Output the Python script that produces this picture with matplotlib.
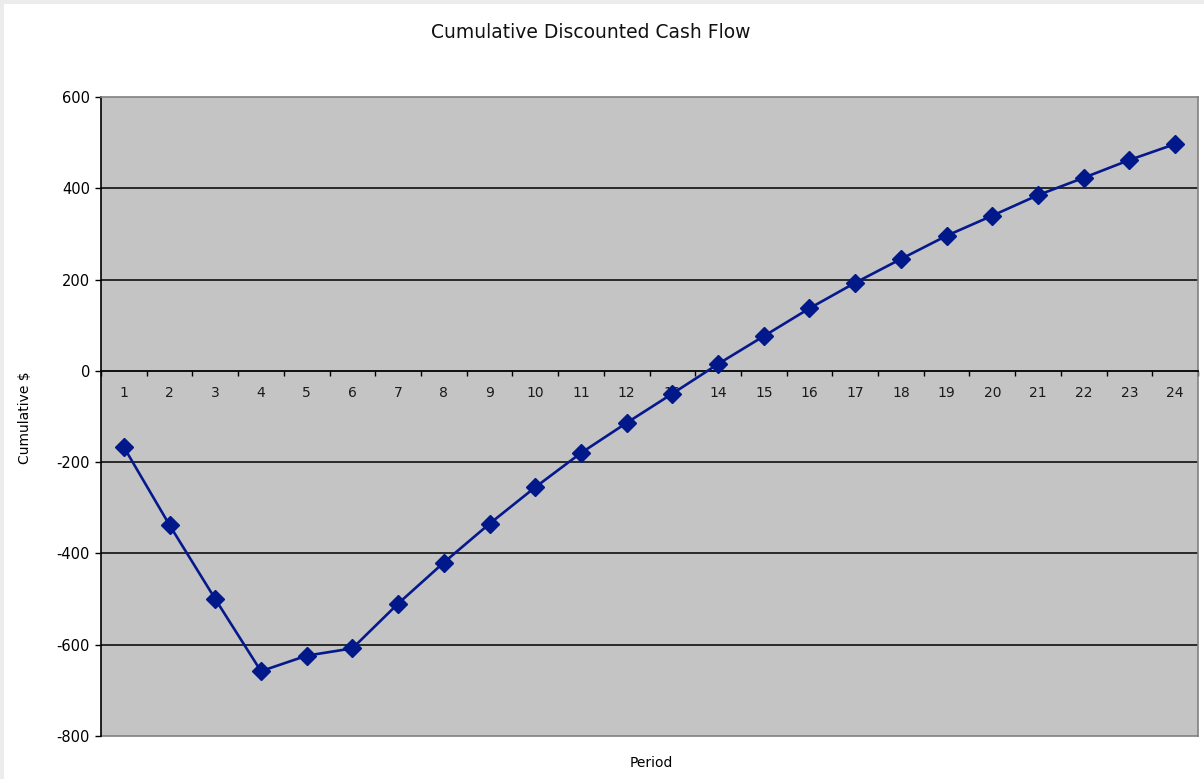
import matplotlib.pyplot as plt
from matplotlib.patches import Rectangle
from matplotlib.ticker import FixedLocator

plt.rcParams['axes.unicode_minus'] = False

# Cumulative discounted cash flow per period
periods = list(range(1, 25))
cumulative = [-167, -338, -500, -658, -624, -608, -510, -420, -335, -255,
              -180, -114, -50, 15, 76, 137, 193, 245, 296, 340,
              385, 423, 462, 497]
y_ticks = [-800, -600, -400, -200, 0, 200, 400, 600]

W, H = 1204, 779
fig = plt.figure(figsize=(W / 100, H / 100), dpi=100)

# thin grey frame at the left and top edge of the sheet
fig.patches.append(Rectangle((0, 0), 1, 1, transform=fig.transFigure,
                             facecolor='#ececec', edgecolor='none', zorder=-10))
fig.patches.append(Rectangle((4 / W, 0), 1, 1 - 4 / H, transform=fig.transFigure,
                             facecolor='white', edgecolor='none', zorder=-9))

ax = fig.add_axes([101 / W, 1 - 736 / H, 1097 / W, 639 / H])
ax.set_facecolor('#c4c4c4')

ax.plot(periods, cumulative, color='#06198c', linewidth=1.9,
        marker='D', markersize=9.5, markerfacecolor='#00188a',
        markeredgecolor='#00188a', zorder=4, clip_on=False)

ax.set_xlim(0.5, 24.5)
ax.set_ylim(-800, 600)

# horizontal gridlines
ax.set_yticks(y_ticks)
for v in y_ticks[1:-1]:
    if v != 0:
        ax.axhline(v, color='black', linewidth=1.1, zorder=1)
ax.axhline(-800, color='#808080', linewidth=1.2, zorder=1, clip_on=False)

# x axis sits on the zero line, ticks at category boundaries
ax.spines['bottom'].set_position(('data', 0))
ax.spines['bottom'].set_color('black')
ax.spines['bottom'].set_linewidth(1.3)
ax.spines['left'].set_color('black')
ax.spines['left'].set_linewidth(1.2)
for s in ['top', 'right']:
    ax.spines[s].set_color('#808080')
    ax.spines[s].set_linewidth(1.2)

ax.xaxis.set_major_locator(FixedLocator([p + 0.5 for p in range(0, 25)]))
ax.xaxis.set_major_formatter(plt.NullFormatter())
ax.set_xticks(periods, [str(p) for p in periods], minor=True)
ax.tick_params(axis='x', which='major', direction='out', length=3.5, width=1, color='black')
ax.tick_params(axis='x', which='minor', length=0, pad=11, labelsize=10, labelcolor='#1a1a1a')
ax.tick_params(axis='y', direction='out', length=4, width=1, labelsize=10.5, pad=4)

fig.text(591 / W, 1 - 33 / H, 'Cumulative Discounted Cash Flow', fontsize=13.5,
         color='#111111', ha='center', va='center')
fig.text(25 / W, 1 - 418 / H, 'Cumulative $', fontsize=10, rotation=90,
         ha='center', va='center')
fig.text(651 / W, 1 - 763 / H, 'Period', fontsize=10, ha='center', va='center')

fig.savefig('out.png', dpi=100)
